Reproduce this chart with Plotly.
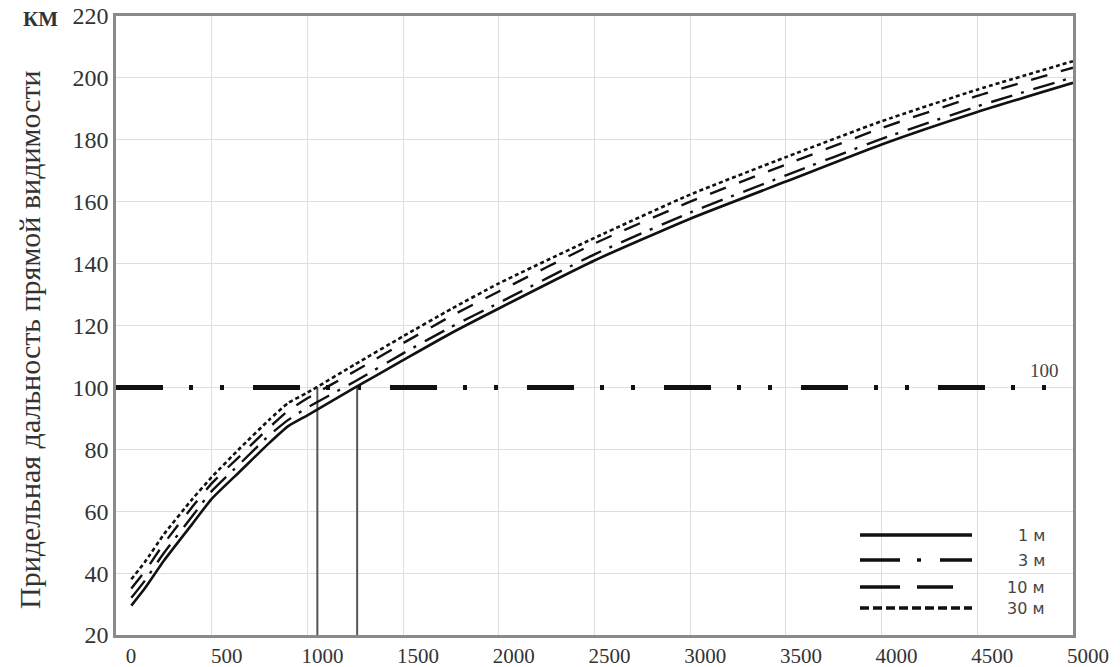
import plotly.graph_objects as go

# ---- data ----
heights_m = [80, 150, 250, 400, 500, 650, 800, 900, 1000, 1250, 1500, 1750, 2000, 2500, 3000, 3500, 4000, 4500, 5000]
range_1m = [29.5, 35, 44, 56, 64, 73, 82, 87.5, 91, 100, 108.8, 117.5, 125.5, 141, 154.5, 166.5, 178.5, 189, 198.4]
range_3m = [32, 37.5, 46.5, 58.5, 66.5, 75.5, 84.5, 89.5, 93.5, 102, 111, 119.5, 127.3, 143, 156.5, 168.5, 180.3, 190.8, 200.2]
range_10m = [35, 40.5, 49.5, 61.5, 69, 78, 87, 92.5, 96.5, 105.3, 114.3, 123, 131, 146.5, 160, 172, 183.8, 194.2, 203.3]
range_30m = [38, 43.5, 52.5, 64, 71, 80.5, 89.5, 95, 98.3, 107.5, 116.5, 125.3, 133.6, 148.3, 162.3, 174.4, 186, 196.2, 205.4]
series_names = ["1 м", "3 м", "10 м", "30 м"]
threshold_km = 100
drop_x = [1052, 1260]
x_ticks = [0, 500, 1000, 1500, 2000, 2500, 3000, 3500, 4000, 4500, 5000]
y_ticks = [20, 40, 60, 80, 100, 120, 140, 160, 180, 200, 220]
y_title = "Придельная дальность прямой видимости"

SERIF = "Liberation Serif"
styles = [
    dict(dash="solid", width=2.6),
    dict(dash="22px,9px,3px,10px", width=2.4),
    dict(dash="17px,14px", width=2.4),
    dict(dash="4px,3px", width=2.6),
]
legend_dash = ["solid", "40px,17px,4px,19px", "40px,17px,36px,20px", "9px,4px"]

fig = go.Figure()

# horizontal 100 km line
fig.add_trace(go.Scatter(
    x=[0, 5000], y=[threshold_km, threshold_km], mode="lines",
    line=dict(color="#111111", width=5, dash="47px,26px,4px,27px,4px,29px"),
    hoverinfo="skip", showlegend=False))

# drop lines
for dx in drop_x:
    fig.add_trace(go.Scatter(
        x=[dx, dx], y=[20, threshold_km], mode="lines",
        line=dict(color="#555555", width=2), hoverinfo="skip", showlegend=False))

for name, ys, st in zip(series_names, [range_1m, range_3m, range_10m, range_30m], styles):
    fig.add_trace(go.Scatter(
        x=heights_m, y=ys, mode="lines", name=name,
        line=dict(color="#111111", width=st["width"], dash=st["dash"], shape="spline", smoothing=0.5),
        showlegend=False))

# custom legend (long line samples like the reference)
L, R, T, B = 116, 1073, 16, 635
W, H = R - L, B - T
def px(xp):
    return (xp - L) / W
def py(yp):
    return (B - yp) / H
leg_y = [535, 560, 587, 608]
for name, yy, dsh in zip(series_names, leg_y, legend_dash):
    fig.add_shape(type="line", xref="paper", yref="paper",
                  x0=px(860), x1=px(972), y0=py(yy), y1=py(yy),
                  line=dict(color="#111111", width=3.5, dash=dsh))
    fig.add_annotation(xref="paper", yref="paper", x=px(1047), y=py(yy),
                       text=name, showarrow=False, xanchor="right", yanchor="middle",
                       font=dict(family="DejaVu Sans", size=16, color="#444444"))

fig.add_annotation(x=4850, y=threshold_km, yshift=17, text="100", showarrow=False,
                   font=dict(family=SERIF, size=19, color="#444444"))
fig.add_annotation(xref="paper", yref="paper", x=px(40), y=py(19), text="<b>КМ</b>",
                   showarrow=False, xanchor="center", yanchor="middle",
                   font=dict(family=SERIF, size=21, color="#333333"))
fig.add_annotation(xref="paper", yref="paper", x=px(29), y=py(340), text=y_title,
                   showarrow=False, textangle=-90, xanchor="center", yanchor="middle",
                   font=dict(family=SERIF, size=30, color="#333333"))

fig.update_xaxes(range=[0, 5000], tickvals=x_ticks, ticktext=[str(v) for v in x_ticks],
                 showgrid=True, gridcolor="#dedede", gridwidth=1, zeroline=False,
                 showline=True, linecolor="#8a8a8a", linewidth=2.5, mirror=True,
                 ticks="", ticklabelshift=15, ticklabelstandoff=0, automargin=False,
                 tickfont=dict(family=SERIF, size=21, color="#333333"))
fig.update_yaxes(range=[20, 220], tickvals=y_ticks, ticktext=[str(v) for v in y_ticks],
                 showgrid=True, gridcolor="#dedede", gridwidth=1, zeroline=False,
                 showline=True, linecolor="#8a8a8a", linewidth=2.5, mirror=True,
                 ticks="", ticklabelstandoff=0, automargin=False,
                 tickfont=dict(family=SERIF, size=24, color="#333333"))

fig.update_layout(width=1120, height=667, plot_bgcolor="white", paper_bgcolor="white",
                  margin=dict(l=L, r=1120 - R, t=T, b=667 - B, autoexpand=False), showlegend=False)

fig.write_html("out.html")
